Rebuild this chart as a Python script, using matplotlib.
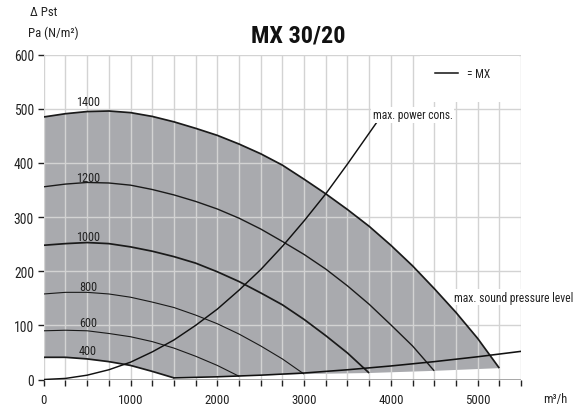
import matplotlib
matplotlib.use("Agg")
import matplotlib.pyplot as plt
from matplotlib.patches import Rectangle, Polygon

FONT = ['Roboto Condensed', 'Liberation Sans', 'DejaVu Sans']
plt.rcParams['font.family'] = FONT

# ---- data ----
q_1400 = [0, 250, 500, 750, 1000, 1250, 1500, 1750, 2000, 2250, 2500, 2750, 3000,
          3250, 3500, 3750, 4000, 4250, 4500, 4750, 5000, 5250]
p_1400 = [485, 491, 495, 496, 493, 486, 476, 464, 451, 435, 417, 396, 370,
          343, 314, 283, 248, 210, 168, 124, 76, 21]

q_1200 = [0, 250, 500, 750, 1000, 1250, 1500, 1750, 2000, 2250, 2500, 2750, 3000,
          3250, 3500, 3750, 4000, 4250, 4500]
p_1200 = [356, 361, 364, 363, 359, 351, 341, 329, 315, 298, 278, 255, 231,
          204, 173, 139, 101, 62, 16]

q_1000 = [0, 250, 500, 750, 1000, 1250, 1500, 1750, 2000, 2250, 2500, 2750, 3000,
          3250, 3500, 3750]
p_1000 = [248, 251, 253, 251, 245, 237, 227, 215, 199, 181, 160, 138, 111,
          81, 49, 12]

q_800 = [0, 250, 500, 750, 1000, 1250, 1500, 1750, 2000, 2250, 2500, 2750, 3000]
p_800 = [158, 161, 161, 158, 152, 143, 133, 119, 103, 84, 62, 38, 10]

q_600 = [0, 250, 500, 750, 1000, 1250, 1500, 1750, 2000, 2250]
p_600 = [90, 91, 90, 85, 79, 70, 58, 43, 26, 6]

q_400 = [0, 250, 500, 750, 1000, 1250, 1500]
p_400 = [41, 41, 38, 33, 26, 15, 3]

# lower limit of the working range (curve end points)
q_low = [1500, 2250, 3000, 3750, 4500, 5250]
p_low = [3, 6, 10, 12, 16, 21]

# max. sound pressure level line
q_sound = [1500, 2000, 2500, 3000, 3500, 4000, 4500, 5000, 5500]
p_sound = [3, 5, 8, 12, 18, 25, 33, 42, 52]

# max. power consumption line
q_power = [0, 250, 500, 750, 1000, 1250, 1500, 1750, 2000, 2250, 2500, 2750,
           3000, 3250, 3500, 3833]
p_power = [0, 2, 8, 18, 32, 51, 73, 100, 130, 165, 203, 246,
           293, 343, 398, 474]

speeds = ['1400', '1200', '1000', '800', '600', '400']
label_y = [513, 374, 264, 172, 106, 54]
x_ticks = [0, 1000, 2000, 3000, 4000, 5000]
y_ticks = [0, 100, 200, 300, 400, 500, 600]

TXT = '#222222'

# ---- figure ----
fig = plt.figure(figsize=(5.76, 4.06), dpi=100)
ax = fig.add_axes([0.076, 0.0628, 0.8285, 0.8000])
ax.set_xlim(0, 5500)
ax.set_ylim(0, 600)

# shaded working range
poly = list(zip(q_1400, p_1400)) + list(zip(q_low[::-1], p_low[::-1])) + \
       list(zip(q_400[::-1], p_400[::-1]))
ax.add_patch(Polygon(poly, closed=True, facecolor='#a9aaae', edgecolor='none', zorder=1))

# grid
for x in range(0, 5501, 250):
    ax.axvline(x, color='#d3d3d3', lw=1.0, zorder=2)
for y in y_ticks[1:]:
    ax.axhline(y, color='#d3d3d3', lw=1.0, zorder=2)
ax.axhline(0, color='#a0a0a0', lw=1.3, zorder=2)

curves = [(q_1400, p_1400, 1.25), (q_1200, p_1200, 1.0), (q_1000, p_1000, 1.25),
          (q_800, p_800, 0.8), (q_600, p_600, 0.8), (q_400, p_400, 1.25)]
for (q, p, lw), name, ly in zip(curves, speeds, label_y):
    ax.plot(q, p, color='#1a1a1a', lw=lw, zorder=4, solid_capstyle='butt')
    ax.text(510, ly, name, ha='center', va='center', fontsize=8.8, color=TXT, zorder=5)

ax.plot(q_sound, p_sound, color='#111111', lw=1.15, zorder=4)
ax.plot(q_power, p_power, color='#111111', lw=1.05, zorder=4)

ax.text(3790, 489, 'max. power cons.', ha='left', va='center', fontsize=8.3,
        color=TXT, zorder=6,
        bbox=dict(facecolor='white', edgecolor='none', pad=1.0))
ax.text(4730, 152, 'max. sound pressure level', ha='left', va='center', fontsize=8.4,
        color=TXT, zorder=6, clip_on=False,
        bbox=dict(facecolor='white', edgecolor='none', pad=1.0))

# legend box
ax.add_patch(Rectangle((4334, 513), 5480 - 4334, 85, facecolor='white',
                       edgecolor='none', zorder=5))
ax.plot([4507, 4772], [566, 566], color='#111111', lw=1.1, zorder=6)
ax.text(4876, 566, '= MX', ha='left', va='center', fontsize=8.3, color=TXT, zorder=6)

# axes styling
for s in ax.spines.values():
    s.set_visible(False)
ax.set_xticks(x_ticks)
ax.set_xticks(list(range(0, 5501, 250)), minor=True)
ax.set_yticks(y_ticks)
ax.tick_params(axis='x', which='both', direction='out', length=4, width=1.0,
               color='#222222', pad=5.5, labelsize=9.3, labelcolor=TXT)
ax.tick_params(axis='y', direction='out', length=4, width=1.0, color='#222222',
               pad=3, labelsize=9.8, labelcolor=TXT)
ax.tick_params(axis='y', which='minor', left=False)

# outer texts
fig.text(0.517, 0.911, 'MX 30/20', ha='center', va='center', fontsize=17.5,
         fontweight='bold', color='#111111')
fig.text(0.052, 0.968, 'Δ Pst', ha='left', va='center', fontsize=9.2, color=TXT)
fig.text(0.049, 0.919, 'Pa (N/m²)', ha='left', va='center', fontsize=9.2, color=TXT)
fig.text(0.943, 0.017, 'm³/h', ha='left', va='center', fontsize=9, color=TXT)

fig.savefig('out.png', dpi=100)
